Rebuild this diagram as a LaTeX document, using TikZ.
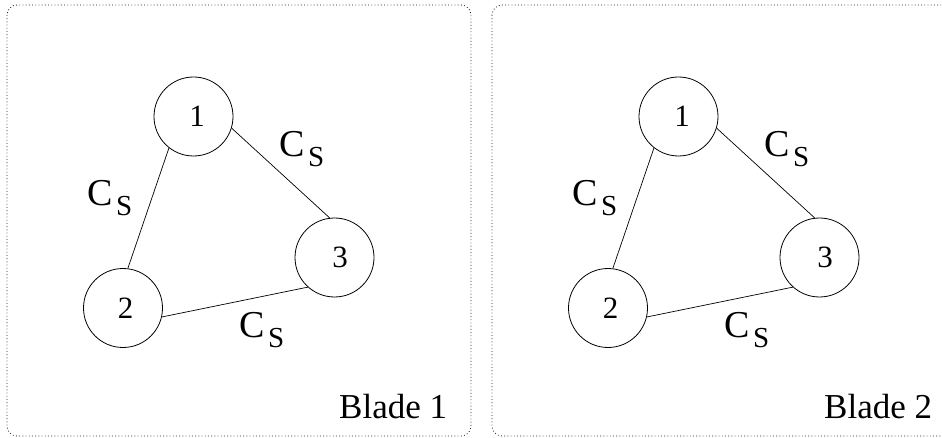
\documentclass[tikz,border=0pt]{standalone}
\usepackage{fontspec}
\setmainfont{Liberation Serif}
\begin{document}
\begin{tikzpicture}[x=1pt,y=-1pt,
  site/.style={draw, circle, minimum size=79pt, inner sep=0pt, line width=0.8pt,
               font=\fontsize{31}{33}\selectfont},
  link/.style={line width=0.7pt},
  edgelabel/.style={anchor=base west, inner sep=0pt},
  bladename/.style={anchor=base west, inner sep=0pt, font=\fontsize{35}{38}\selectfont},
  frame/.style={draw=black!85, line width=0.8pt, dash pattern=on 0.9pt off 2.3pt, rounded corners=10pt}]
\newcommand{\csub}{{\fontsize{38}{40}\selectfont C}\kern3.5pt\raisebox{-10pt}{\fontsize{29}{31}\selectfont S}}
\useasboundingbox (0,0) rectangle (942,438);

% dotted frames of the two blades; the second one runs past the right border
\draw[frame] (7,5) rectangle (471,436);
\draw[frame] (492,5) rectangle (990,436);

\foreach \dx/\k in {0/1, 485/2} {
  \begin{scope}[xshift=\dx]
    \node[site] (a\k) at (193.5,116.5) {\hspace*{7pt}1};
    \node[site] (b\k) at (123,308) {\hspace*{5pt}2};
    \node[site] (c\k) at (334.5,257.5) {\hspace*{11pt}3};
    \draw[link] (a\k.232) -- (b\k.83);
    \draw[link] (a\k.343) -- (c\k.97);
    \draw[link] (b\k.347) -- (c\k.228);
    \node[edgelabel] (lab\k) at (87,206) {\csub};
    \node[edgelabel] (lac\k) at (279,157) {\csub};
    \node[edgelabel] (lbc\k) at (239,337) {\csub};
    \node[bladename] (name\k) at (339,418) {Blade \k};
  \end{scope}
}
\end{tikzpicture}
\end{document}
